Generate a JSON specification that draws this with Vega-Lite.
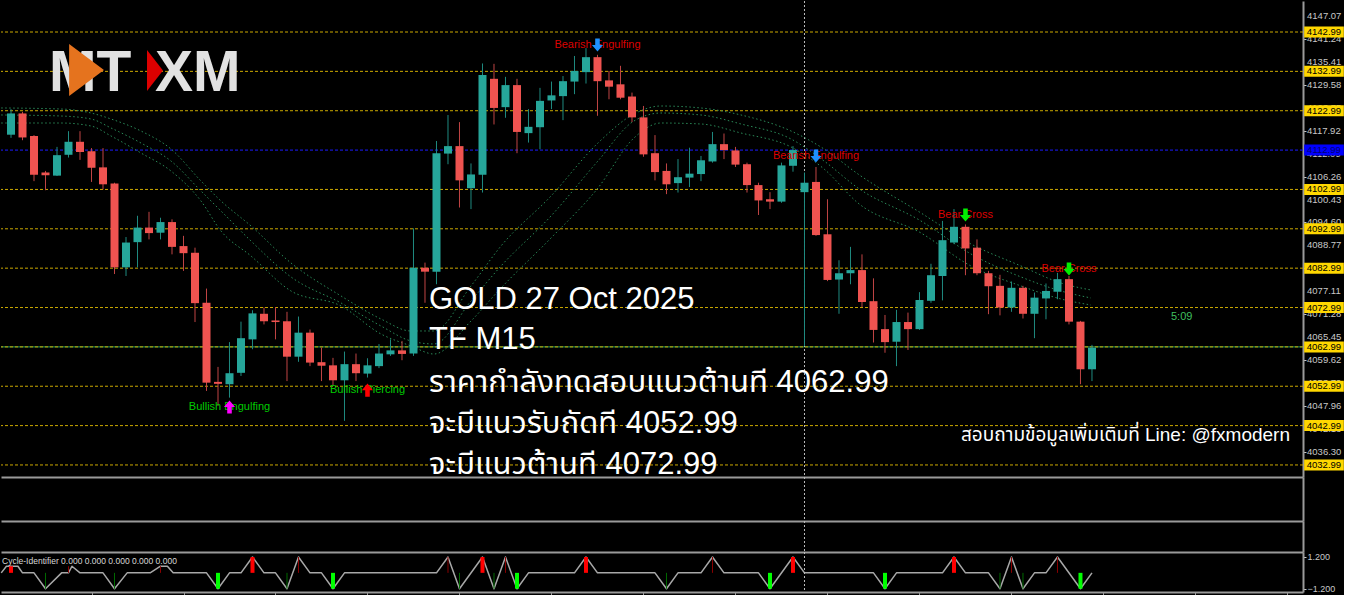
{
  "$schema": "https://vega.github.io/schema/vega-lite/v6.json",
  "background": "#000000",
  "padding": 0,
  "spacing": 0,
  "bounds": "flush",
  "config": {"view": {"stroke": null}, "font": "Liberation Sans", "scale": {"continuousPadding": 0}, "axis": {"labelOverlap": false}},
  "datasets": {
    "candles": [
      {"i":0,"o":4116.9,"h":4123.4,"l":4116.1,"c":4122.3},
      {"i":1,"o":4122.3,"h":4122.7,"l":4115.5,"c":4116.2},
      {"i":2,"o":4116.6,"h":4116.8,"l":4105.1,"c":4106.7},
      {"i":3,"o":4107.3,"h":4107.7,"l":4102.8,"c":4106.6},
      {"i":4,"o":4106.5,"h":4113.8,"l":4106.4,"c":4111.7},
      {"i":5,"o":4111.8,"h":4117.8,"l":4111.1,"c":4115.1},
      {"i":6,"o":4115.1,"h":4117.8,"l":4110.5,"c":4112.5},
      {"i":7,"o":4112.7,"h":4113.5,"l":4104.9,"c":4108.5},
      {"i":8,"o":4108.6,"h":4113.5,"l":4103.0,"c":4104.3},
      {"i":9,"o":4104.5,"h":4104.7,"l":4081.5,"c":4083.2},
      {"i":10,"o":4083.2,"h":4090.9,"l":4081.0,"c":4089.5},
      {"i":11,"o":4089.6,"h":4096.3,"l":4083.2,"c":4093.3},
      {"i":12,"o":4093.3,"h":4097.3,"l":4090.3,"c":4091.9},
      {"i":13,"o":4092.0,"h":4095.8,"l":4090.3,"c":4094.7},
      {"i":14,"o":4094.7,"h":4095.4,"l":4086.5,"c":4088.4},
      {"i":15,"o":4088.6,"h":4091.2,"l":4082.3,"c":4086.8},
      {"i":16,"o":4086.9,"h":4088.2,"l":4069.3,"c":4074.1},
      {"i":17,"o":4074.2,"h":4077.8,"l":4051.8,"c":4053.9},
      {"i":18,"o":4054.1,"h":4057.9,"l":4048.0,"c":4053.6},
      {"i":19,"o":4053.5,"h":4064.2,"l":4050.1,"c":4056.3},
      {"i":20,"o":4056.4,"h":4069.4,"l":4055.6,"c":4065.2},
      {"i":21,"o":4064.9,"h":4072.3,"l":4062.4,"c":4071.5},
      {"i":22,"o":4071.4,"h":4073.0,"l":4068.7,"c":4069.5},
      {"i":23,"o":4069.7,"h":4073.1,"l":4064.9,"c":4069.3},
      {"i":24,"o":4069.5,"h":4071.9,"l":4054.3,"c":4060.5},
      {"i":25,"o":4060.5,"h":4070.7,"l":4059.2,"c":4066.6},
      {"i":26,"o":4066.6,"h":4067.4,"l":4058.1,"c":4059.0},
      {"i":27,"o":4059.1,"h":4062.8,"l":4054.3,"c":4058.2},
      {"i":28,"o":4058.3,"h":4060.2,"l":4053.1,"c":4054.5},
      {"i":29,"o":4054.5,"h":4061.8,"l":4044.2,"c":4058.6},
      {"i":30,"o":4058.6,"h":4061.3,"l":4054.3,"c":4056.3},
      {"i":31,"o":4056.2,"h":4060.1,"l":4055.2,"c":4058.3},
      {"i":32,"o":4058.1,"h":4063.7,"l":4057.6,"c":4061.3},
      {"i":33,"o":4061.1,"h":4064.9,"l":4060.7,"c":4062.1},
      {"i":34,"o":4062.1,"h":4064.5,"l":4059.6,"c":4061.2},
      {"i":35,"o":4061.3,"h":4093.1,"l":4060.7,"c":4083.1},
      {"i":36,"o":4083.1,"h":4084.4,"l":4074.2,"c":4082.1},
      {"i":37,"o":4082.1,"h":4115.3,"l":4078.9,"c":4112.2},
      {"i":38,"o":4112.1,"h":4121.9,"l":4109.4,"c":4114.0},
      {"i":39,"o":4114.0,"h":4120.1,"l":4098.4,"c":4105.3},
      {"i":40,"o":4103.3,"h":4109.6,"l":4098.0,"c":4106.8},
      {"i":41,"o":4106.7,"h":4135.0,"l":4102.2,"c":4132.1},
      {"i":42,"o":4131.1,"h":4134.9,"l":4119.5,"c":4123.7},
      {"i":43,"o":4123.9,"h":4131.6,"l":4121.2,"c":4129.5},
      {"i":44,"o":4129.5,"h":4131.1,"l":4112.2,"c":4117.6},
      {"i":45,"o":4117.3,"h":4123.4,"l":4114.9,"c":4118.9},
      {"i":46,"o":4118.8,"h":4128.8,"l":4113.2,"c":4125.5},
      {"i":47,"o":4125.6,"h":4130.4,"l":4123.4,"c":4126.9},
      {"i":48,"o":4126.7,"h":4131.8,"l":4120.6,"c":4130.5},
      {"i":49,"o":4130.4,"h":4136.9,"l":4127.2,"c":4133.1},
      {"i":50,"o":4132.8,"h":4138.9,"l":4129.9,"c":4136.6},
      {"i":51,"o":4136.6,"h":4137.2,"l":4121.7,"c":4130.5},
      {"i":52,"o":4130.7,"h":4133.1,"l":4125.9,"c":4129.1},
      {"i":53,"o":4129.7,"h":4134.4,"l":4125.9,"c":4126.3},
      {"i":54,"o":4126.6,"h":4127.6,"l":4120.1,"c":4121.3},
      {"i":55,"o":4121.3,"h":4124.2,"l":4111.3,"c":4111.9},
      {"i":56,"o":4112.2,"h":4116.8,"l":4105.3,"c":4107.4},
      {"i":57,"o":4107.7,"h":4109.6,"l":4101.8,"c":4104.3},
      {"i":58,"o":4104.6,"h":4110.7,"l":4102.2,"c":4106.1},
      {"i":59,"o":4106.0,"h":4113.6,"l":4103.6,"c":4107.0},
      {"i":60,"o":4106.9,"h":4111.5,"l":4105.1,"c":4110.4},
      {"i":61,"o":4110.1,"h":4117.6,"l":4109.8,"c":4114.5},
      {"i":62,"o":4114.5,"h":4117.2,"l":4110.7,"c":4113.0},
      {"i":63,"o":4112.9,"h":4113.8,"l":4108.7,"c":4109.3},
      {"i":64,"o":4109.4,"h":4109.8,"l":4102.2,"c":4104.1},
      {"i":65,"o":4104.1,"h":4104.7,"l":4096.5,"c":4100.2},
      {"i":66,"o":4100.5,"h":4102.3,"l":4098.0,"c":4099.9},
      {"i":67,"o":4099.9,"h":4109.8,"l":4099.6,"c":4109.1},
      {"i":68,"o":4109.0,"h":4114.0,"l":4107.5,"c":4113.0},
      {"i":69,"o":4102.3,"h":4107.3,"l":4063.2,"c":4104.7},
      {"i":70,"o":4104.9,"h":4108.7,"l":4091.2,"c":4091.4},
      {"i":71,"o":4091.6,"h":4100.5,"l":4079.7,"c":4080.0},
      {"i":72,"o":4080.1,"h":4085.0,"l":4071.4,"c":4081.7},
      {"i":73,"o":4081.7,"h":4088.4,"l":4078.9,"c":4082.5},
      {"i":74,"o":4082.5,"h":4086.5,"l":4073.1,"c":4074.4},
      {"i":75,"o":4074.6,"h":4080.4,"l":4064.1,"c":4067.3},
      {"i":76,"o":4067.5,"h":4071.1,"l":4061.5,"c":4064.2},
      {"i":77,"o":4064.3,"h":4072.4,"l":4058.1,"c":4069.3},
      {"i":78,"o":4069.3,"h":4071.7,"l":4062.2,"c":4067.5},
      {"i":79,"o":4067.5,"h":4076.9,"l":4067.3,"c":4074.9},
      {"i":80,"o":4074.7,"h":4084.1,"l":4074.2,"c":4081.2},
      {"i":81,"o":4081.0,"h":4095.0,"l":4074.8,"c":4090.1},
      {"i":82,"o":4089.5,"h":4098.0,"l":4089.1,"c":4093.5},
      {"i":83,"o":4093.5,"h":4094.1,"l":4081.2,"c":4088.0},
      {"i":84,"o":4088.2,"h":4090.3,"l":4081.2,"c":4081.7},
      {"i":85,"o":4081.7,"h":4082.3,"l":4071.3,"c":4078.4},
      {"i":86,"o":4078.5,"h":4081.3,"l":4071.0,"c":4073.0},
      {"i":87,"o":4073.0,"h":4079.6,"l":4071.9,"c":4078.0},
      {"i":88,"o":4078.0,"h":4078.5,"l":4070.2,"c":4071.4},
      {"i":89,"o":4071.4,"h":4076.8,"l":4065.2,"c":4075.5},
      {"i":90,"o":4075.3,"h":4079.1,"l":4070.0,"c":4077.2},
      {"i":91,"o":4077.0,"h":4081.8,"l":4075.1,"c":4080.2},
      {"i":92,"o":4080.2,"h":4081.0,"l":4068.7,"c":4069.4},
      {"i":93,"o":4069.4,"h":4069.6,"l":4053.5,"c":4057.3},
      {"i":94,"o":4057.3,"h":4063.5,"l":4054.3,"c":4062.8}
    ],
    "bands": [
      {"i":-0.85,"top":4123.69,"mid":4121.91,"bot":4119.87},
      {"i":4.35,"top":4123.43,"mid":4121.65,"bot":4119.87},
      {"i":6.96,"top":4122.41,"mid":4120.89,"bot":4119.11},
      {"i":8.7,"top":4120.89,"mid":4118.6,"bot":4116.57},
      {"i":11.3,"top":4117.84,"mid":4114.79,"bot":4112.25},
      {"i":13.91,"top":4113.27,"mid":4110.22,"bot":4107.68},
      {"i":16.52,"top":4105.14,"mid":4102.6,"bot":4100.06},
      {"i":18.26,"top":4100.06,"mid":4097.52,"bot":4092.44},
      {"i":20.87,"top":4093.71,"mid":4089.89,"bot":4086.08},
      {"i":24.35,"top":4084.3,"mid":4080.75,"bot":4077.19},
      {"i":28.7,"top":4075.92,"mid":4074.14,"bot":4073.38},
      {"i":32.17,"top":4070.08,"mid":4068.3,"bot":4066.27},
      {"i":34.78,"top":4067.03,"mid":4064.49,"bot":4063.22},
      {"i":36.78,"top":4067.03,"mid":4063.73,"bot":4061.18},
      {"i":40,"top":4078.46,"mid":4074.65,"bot":4069.57},
      {"i":42.61,"top":4088.62,"mid":4083.54,"bot":4077.95},
      {"i":46.96,"top":4101.33,"mid":4096.25,"bot":4090.66},
      {"i":51.04,"top":4114.79,"mid":4110.22,"bot":4103.36},
      {"i":54.17,"top":4122.16,"mid":4120.38,"bot":4116.06},
      {"i":56.52,"top":4124.19,"mid":4122.41,"bot":4119.87},
      {"i":60,"top":4123.69,"mid":4121.91,"bot":4119.62},
      {"i":63.48,"top":4121.91,"mid":4119.62,"bot":4117.33},
      {"i":67.83,"top":4117.84,"mid":4115.81,"bot":4113.78},
      {"i":70.7,"top":4113.27,"mid":4110.22,"bot":4108.19},
      {"i":73.65,"top":4106.92,"mid":4103.36,"bot":4099.55},
      {"i":79.13,"top":4097.01,"mid":4094.98,"bot":4091.93},
      {"i":83.48,"top":4089.13,"mid":4086.59,"bot":4083.54},
      {"i":87.83,"top":4083.54,"mid":4080.75,"bot":4078.46},
      {"i":91.3,"top":4079.22,"mid":4077.19,"bot":4075.16},
      {"i":93.91,"top":4077.45,"mid":4075.41,"bot":4073.63}
    ],
    "levels": [
      {"v":4142.99},{"v":4132.99},{"v":4122.99},{"v":4112.99},{"v":4102.99},{"v":4092.99},
      {"v":4082.99},{"v":4072.99},{"v":4062.99},{"v":4052.99},{"v":4042.99},{"v":4032.99}
    ],
    "ticks": [
      {"v":4036.30},{"v":4042.13},{"v":4047.96},{"v":4053.79},{"v":4059.62},{"v":4065.45},{"v":4071.28},
      {"v":4077.11},{"v":4082.94},{"v":4088.77},{"v":4094.60},{"v":4100.43},{"v":4106.26},{"v":4112.09},
      {"v":4117.92},{"v":4123.75},{"v":4129.58},{"v":4135.41},{"v":4141.24},{"v":4147.07}
    ],
    "signals": [
      {"i":51,"y":4139.7,"t":"Bearish Engulfing","d":"bear"},
      {"i":70,"y":4111.5,"t":"Bearish Engulfing","d":"bear"},
      {"i":83,"y":4096.5,"t":"Bear Cross","d":"bear"},
      {"i":92,"y":4082.8,"t":"Bear Cross","d":"bear"},
      {"i":19,"y":4047.7,"t":"Bullish Engulfing","d":"bull"},
      {"i":31,"y":4052.0,"t":"Bullish Piercing","d":"bull"}
    ],
    "notes": [
      {"i":36.35,"y":4072.62,"t":"GOLD 27 Oct 2025"},
      {"i":36.35,"y":4062.33,"t":"TF M15"},
      {"i":36.35,"y":4051.4,"t":"ราคากำลังทดสอบแนวต้านที 4062.99"},
      {"i":36.35,"y":4041.11,"t":"จะมีแนวรับถัดที 4052.99"},
      {"i":36.35,"y":4030.57,"t":"จะมีแนวต้านที 4072.99"}
    ],
    "zig": [
      {"i":-0.85,"v":0},{"i":-0.4,"v":0.5},{"i":0.6,"v":0.5},{"i":1,"v":0},{"i":2,"v":0},{"i":3,"v":-1.2},
      {"i":4.4,"v":0},{"i":5,"v":0},{"i":5.3,"v":0.5},{"i":6,"v":0},{"i":8,"v":0},{"i":9,"v":-1.2},
      {"i":10.1,"v":0},{"i":12.1,"v":0},{"i":13,"v":0.5},{"i":13.6,"v":0.5},{"i":14.1,"v":0},{"i":17,"v":0},
      {"i":18,"v":-1.2},{"i":19,"v":0},{"i":20,"v":0},{"i":21,"v":1.2},{"i":22,"v":0},{"i":23,"v":0},
      {"i":24,"v":-1.2},{"i":25,"v":1.2},{"i":26,"v":0},{"i":27,"v":0},{"i":28,"v":-1.2},{"i":29,"v":0},
      {"i":37,"v":0},{"i":38,"v":1.2},{"i":39,"v":-1.2},{"i":41,"v":1.2},{"i":42,"v":-1.2},{"i":43,"v":1.2},
      {"i":44,"v":-1.2},{"i":45,"v":0},{"i":49,"v":0},{"i":50,"v":1.2},{"i":51,"v":0},{"i":56,"v":0},
      {"i":57,"v":-1.2},{"i":58,"v":0},{"i":60,"v":0},{"i":61,"v":1.2},{"i":62,"v":0},{"i":65,"v":0},
      {"i":66,"v":-1.2},{"i":68,"v":1.2},{"i":69,"v":0},{"i":75,"v":0},{"i":76,"v":-1.2},{"i":77,"v":0},
      {"i":81,"v":0},{"i":82,"v":1.2},{"i":83,"v":0},{"i":85,"v":0},{"i":86,"v":-1.2},{"i":87,"v":1.2},
      {"i":88,"v":-1.2},{"i":89,"v":0},{"i":90,"v":0},{"i":91,"v":1.2},{"i":93,"v":-1.2},{"i":94,"v":0}
    ],
    "cyc": [
      {"i":0,"v":0.5,"k":"sell"},{"i":21,"v":1.2,"k":"sell"},{"i":41,"v":1.2,"k":"sell"},{"i":50,"v":1.2,"k":"sell"},
      {"i":68,"v":1.2,"k":"sell"},{"i":82,"v":1.2,"k":"sell"},
      {"i":18,"v":-1.2,"k":"buy"},{"i":28,"v":-1.2,"k":"buy"},{"i":44,"v":-1.2,"k":"buy"},{"i":66,"v":-1.2,"k":"buy"},
      {"i":76,"v":-1.2,"k":"buy"},{"i":93,"v":-1.2,"k":"buy"},
      {"i":5,"v":0.5,"k":"sellWeak"},{"i":13,"v":0.5,"k":"sellWeak"},{"i":25,"v":1.2,"k":"sellWeak"},{"i":38,"v":1.2,"k":"sellWeak"},
      {"i":43,"v":1.2,"k":"sellWeak"},{"i":61,"v":1.2,"k":"sellWeak"},{"i":87,"v":1.2,"k":"sellWeak"},{"i":91,"v":1.2,"k":"sellWeak"},
      {"i":3,"v":-1.2,"k":"buyWeak"},{"i":9,"v":-1.2,"k":"buyWeak"},{"i":24,"v":-1.2,"k":"buyWeak"},{"i":39,"v":-1.2,"k":"buyWeak"},
      {"i":42,"v":-1.2,"k":"buyWeak"},{"i":57,"v":-1.2,"k":"buyWeak"},{"i":86,"v":-1.2,"k":"buyWeak"},{"i":88,"v":-1.2,"k":"buyWeak"}
    ]
  },
  "vconcat": [
    {
      "width": 1302,
      "height": 476,
      "layer": [
        {
          "data": {"name": "ticks"},
          "mark": {"type": "rule", "opacity": 0},
          "encoding": {
            "x": {"datum": 0, "type": "quantitative", "scale": {"domain": [-0.87, 112.35], "nice": false, "zero": false, "padding": 0},
                  "axis": {"orient": "bottom", "ticks": false, "labels": false, "domain": true, "domainColor": "#9a9a9a", "domainWidth": 2, "title": null, "grid": false}},
            "y": {"field": "v", "type": "quantitative", "scale": {"domain": [4029.93, 4150.87], "nice": false, "zero": false, "padding": 0},
                  "axis": {"orient": "right", "values": [4036.30, 4042.13, 4047.96, 4053.79, 4059.62, 4065.45, 4071.28, 4077.11, 4082.94, 4088.77, 4094.60, 4100.43, 4106.26, 4112.09, 4117.92, 4123.75, 4129.58, 4135.41, 4141.24, 4147.07],
                           "labels": false, "tickColor": "#c8c8c8", "tickSize": 3, "domain": true, "domainColor": "#9a9a9a", "domainWidth": 2, "title": null, "grid": false}}
          }
        },
        {
          "data": {"name": "ticks"},
          "mark": {"type": "text", "fontSize": 9.5, "font": "Liberation Sans", "align": "left", "baseline": "middle", "color": "#c8c8c8"},
          "encoding": {
            "x": {"datum": 112.7, "type": "quantitative", "scale": {"domain": [-0.87, 112.35], "nice": false, "zero": false}},
            "y": {"field": "v", "type": "quantitative", "scale": {"domain": [4029.93, 4150.87], "nice": false, "zero": false}},
            "text": {"field": "v", "type": "quantitative", "format": ".2f"}
          }
        },
        {
          "data": {"values": [{}]},
          "mark": {"type": "rule", "color": "#2fa35e", "strokeWidth": 1},
          "encoding": {"y": {"datum": 4062.99, "type": "quantitative", "scale": {"domain": [4029.93, 4150.87], "nice": false, "zero": false}}}
        },
        {
          "data": {"name": "levels"},
          "transform": [{"filter": "datum.v != 4112.99"}],
          "mark": {"type": "rule", "color": "#caa800", "strokeWidth": 1, "strokeDash": [3, 2]},
          "encoding": {"y": {"field": "v", "type": "quantitative", "scale": {"domain": [4029.93, 4150.87], "nice": false, "zero": false}}}
        },
        {
          "data": {"values": [{}]},
          "mark": {"type": "rule", "color": "#1a1aff", "strokeWidth": 1, "strokeDash": [3, 2]},
          "encoding": {"y": {"datum": 4112.99, "type": "quantitative", "scale": {"domain": [4029.93, 4150.87], "nice": false, "zero": false}}}
        },
        {
          "data": {"values": [{}]},
          "mark": {"type": "rule", "color": "#bdbdbd", "strokeWidth": 1, "strokeDash": [2, 2]},
          "encoding": {"x": {"datum": 69, "type": "quantitative", "scale": {"domain": [-0.87, 112.35], "nice": false, "zero": false}}}
        },
        {
          "data": {"name": "bands"},
          "mark": {"type": "line", "color": "#2a8a58", "strokeWidth": 1, "strokeDash": [1.5, 2.5], "interpolate": "monotone", "strokeJoin": "round"},
          "encoding": {
            "x": {"field": "i", "type": "quantitative", "scale": {"domain": [-0.87, 112.35], "nice": false, "zero": false}},
            "y": {"field": "top", "type": "quantitative", "scale": {"domain": [4029.93, 4150.87], "nice": false, "zero": false}}
          }
        },
        {
          "data": {"name": "bands"},
          "mark": {"type": "line", "color": "#2a8a58", "strokeWidth": 1, "strokeDash": [1.5, 2.5], "interpolate": "monotone", "strokeJoin": "round"},
          "encoding": {
            "x": {"field": "i", "type": "quantitative", "scale": {"domain": [-0.87, 112.35], "nice": false, "zero": false}},
            "y": {"field": "mid", "type": "quantitative", "scale": {"domain": [4029.93, 4150.87], "nice": false, "zero": false}}
          }
        },
        {
          "data": {"name": "bands"},
          "mark": {"type": "line", "color": "#2a8a58", "strokeWidth": 1, "strokeDash": [1.5, 2.5], "interpolate": "monotone", "strokeJoin": "round"},
          "encoding": {
            "x": {"field": "i", "type": "quantitative", "scale": {"domain": [-0.87, 112.35], "nice": false, "zero": false}},
            "y": {"field": "bot", "type": "quantitative", "scale": {"domain": [4029.93, 4150.87], "nice": false, "zero": false}}
          }
        },
        {
          "data": {"name": "candles"},
          "mark": {"type": "rule", "strokeWidth": 1},
          "encoding": {
            "x": {"field": "i", "type": "quantitative", "scale": {"domain": [-0.87, 112.35], "nice": false, "zero": false}},
            "y": {"field": "l", "type": "quantitative", "scale": {"domain": [4029.93, 4150.87], "nice": false, "zero": false}},
            "y2": {"field": "h"},
            "color": {"condition": {"test": "datum.c >= datum.o", "value": "#1f8a80"}, "value": "#c04444"}
          }
        },
        {
          "data": {"name": "candles"},
          "mark": {"type": "bar", "size": 8},
          "encoding": {
            "x": {"field": "i", "type": "quantitative", "scale": {"domain": [-0.87, 112.35], "nice": false, "zero": false}},
            "y": {"field": "o", "type": "quantitative", "scale": {"domain": [4029.93, 4150.87], "nice": false, "zero": false}},
            "y2": {"field": "c"},
            "color": {"condition": {"test": "datum.c >= datum.o", "value": "#26a69a"}, "value": "#ef5350"}
          }
        },
        {
          "data": {"name": "signals"},
          "mark": {"type": "text", "fontSize": 11, "font": "Liberation Sans", "align": "center", "baseline": "middle"},
          "encoding": {
            "x": {"field": "i", "type": "quantitative", "scale": {"domain": [-0.87, 112.35], "nice": false, "zero": false}},
            "y": {"field": "y", "type": "quantitative", "scale": {"domain": [4029.93, 4150.87], "nice": false, "zero": false}},
            "text": {"field": "t"},
            "color": {"field": "d", "type": "nominal", "scale": {"domain": ["bear", "bull"], "range": ["#dd0000", "#00cc00"]}, "legend": null}
          }
        },
        {
          "data": {"name": "signals"},
          "mark": {"type": "point", "filled": true, "size": 170, "opacity": 1},
          "encoding": {
            "x": {"field": "i", "type": "quantitative", "scale": {"domain": [-0.87, 112.35], "nice": false, "zero": false}},
            "y": {"field": "y", "type": "quantitative", "scale": {"domain": [4029.93, 4150.87], "nice": false, "zero": false}},
            "shape": {"field": "d", "type": "nominal", "scale": {"domain": ["bear", "bull"], "range": ["M-0.35,-1L0.35,-1L0.35,0L0.85,0L0,1L-0.85,0L-0.35,0Z", "M-0.35,1L0.35,1L0.35,0L0.85,0L0,-1L-0.85,0L-0.35,0Z"]}, "legend": null},
            "fill": {"field": "t", "type": "nominal", "scale": {"domain": ["Bearish Engulfing", "Bear Cross", "Bullish Engulfing", "Bullish Piercing"], "range": ["#1e90ff", "#00ee00", "#ff00ff", "#ff0000"]}, "legend": null}
          }
        },
        {
          "data": {"name": "notes"},
          "mark": {"type": "text", "fontSize": 31, "font": "Liberation Sans, Noto Sans Thai, sans-serif", "align": "left", "baseline": "alphabetic", "color": "#ffffff"},
          "encoding": {
            "x": {"field": "i", "type": "quantitative", "scale": {"domain": [-0.87, 112.35], "nice": false, "zero": false}},
            "y": {"field": "y", "type": "quantitative", "scale": {"domain": [4029.93, 4150.87], "nice": false, "zero": false}},
            "text": {"field": "t"}
          }
        },
        {
          "data": {"values": [{"i": 82.61, "y": 4039.08, "t": "สอบถามข้อมูลเพิ่มเติมที่ Line: @fxmodern"}]},
          "mark": {"type": "text", "fontSize": 19, "font": "Liberation Sans, Noto Sans Thai, sans-serif", "align": "left", "baseline": "alphabetic", "color": "#ffffff"},
          "encoding": {
            "x": {"field": "i", "type": "quantitative", "scale": {"domain": [-0.87, 112.35], "nice": false, "zero": false}},
            "y": {"field": "y", "type": "quantitative", "scale": {"domain": [4029.93, 4150.87], "nice": false, "zero": false}},
            "text": {"field": "t"}
          }
        },
        {
          "data": {"values": [{"i": 100.87, "y": 4070.59, "t": "5:09"}]},
          "mark": {"type": "text", "fontSize": 11, "font": "Liberation Sans", "align": "left", "baseline": "middle", "color": "#3fbf5f"},
          "encoding": {
            "x": {"field": "i", "type": "quantitative", "scale": {"domain": [-0.87, 112.35], "nice": false, "zero": false}},
            "y": {"field": "y", "type": "quantitative", "scale": {"domain": [4029.93, 4150.87], "nice": false, "zero": false}},
            "text": {"field": "t"}
          }
        },
        {
          "data": {"values": [{"i": 3.3, "y": 4128.0, "t": "MT"}, {"i": 12.52, "y": 4128.0, "t": "XM"}]},
          "mark": {"type": "text", "fontSize": 57, "font": "Liberation Sans", "fontWeight": "bold", "align": "left", "baseline": "alphabetic", "color": "#e2e2e2"},
          "encoding": {
            "x": {"field": "i", "type": "quantitative", "scale": {"domain": [-0.87, 112.35], "nice": false, "zero": false}},
            "y": {"field": "y", "type": "quantitative", "scale": {"domain": [4029.93, 4150.87], "nice": false, "zero": false}},
            "text": {"field": "t"}
          }
        },
        {
          "data": {"values": [{"i": 6.57, "y": 4133.34}]},
          "mark": {"type": "point", "filled": true, "opacity": 1, "color": "#e5731e", "size": 2704, "shape": "M-0.67,-1L0.67,0L-0.67,1Z"},
          "encoding": {
            "x": {"field": "i", "type": "quantitative", "scale": {"domain": [-0.87, 112.35], "nice": false, "zero": false}},
            "y": {"field": "y", "type": "quantitative", "scale": {"domain": [4029.93, 4150.87], "nice": false, "zero": false}}
          }
        },
        {
          "data": {"values": [{"i": 12.52, "y": 4133.21}]},
          "mark": {"type": "point", "filled": true, "opacity": 1, "color": "#dd0000", "size": 1681, "shape": "M-0.39,-1L0.39,0L-0.39,1Z"},
          "encoding": {
            "x": {"field": "i", "type": "quantitative", "scale": {"domain": [-0.87, 112.35], "nice": false, "zero": false}},
            "y": {"field": "y", "type": "quantitative", "scale": {"domain": [4029.93, 4150.87], "nice": false, "zero": false}}
          }
        },
        {
          "data": {"name": "levels"},
          "mark": {"type": "bar", "size": 11, "orient": "horizontal"},
          "encoding": {
            "x": {"datum": 112.45, "type": "quantitative", "scale": {"domain": [-0.87, 112.35], "nice": false, "zero": false}},
            "x2": {"datum": 115.9},
            "y": {"field": "v", "type": "quantitative", "scale": {"domain": [4029.93, 4150.87], "nice": false, "zero": false}},
            "color": {"condition": {"test": "datum.v == 4112.99", "value": "#0000ff"}, "value": "#ffd700"}
          }
        },
        {
          "data": {"name": "levels"},
          "mark": {"type": "text", "fontSize": 9.5, "font": "Liberation Sans", "align": "center", "baseline": "middle"},
          "encoding": {
            "x": {"datum": 114.17, "type": "quantitative", "scale": {"domain": [-0.87, 112.35], "nice": false, "zero": false}},
            "y": {"field": "v", "type": "quantitative", "scale": {"domain": [4029.93, 4150.87], "nice": false, "zero": false}},
            "text": {"field": "v", "type": "quantitative", "format": ".2f"},
            "color": {"condition": {"test": "datum.v == 4112.99", "value": "#000070"}, "value": "#000000"}
          }
        }
      ]
    },
    {
      "width": 1302,
      "height": 44,
      "layer": [
        {
          "data": {"values": []},
          "mark": "point",
          "encoding": {
            "x": {"field": "i", "type": "quantitative", "scale": {"domain": [-0.87, 112.35], "nice": false, "zero": false, "padding": 0},
                  "axis": {"orient": "bottom", "ticks": false, "labels": false, "domain": true, "domainColor": "#9a9a9a", "domainWidth": 2, "title": null, "grid": false}},
            "y": {"field": "v", "type": "quantitative", "scale": {"domain": [0, 1], "nice": false, "padding": 0},
                  "axis": {"orient": "right", "ticks": false, "labels": false, "domain": true, "domainColor": "#9a9a9a", "domainWidth": 2, "title": null, "grid": false}}
          }
        },
        {
          "data": {"values": [{}]},
          "mark": {"type": "rule", "color": "#bdbdbd", "strokeWidth": 1, "strokeDash": [2, 2]},
          "encoding": {"x": {"datum": 69, "type": "quantitative", "scale": {"domain": [-0.87, 112.35], "nice": false, "zero": false}}}
        }
      ]
    },
    {
      "width": 1302,
      "height": 31,
      "layer": [
        {
          "data": {"values": []},
          "mark": "point",
          "encoding": {
            "x": {"field": "i", "type": "quantitative", "scale": {"domain": [-0.87, 112.35], "nice": false, "zero": false, "padding": 0},
                  "axis": {"orient": "bottom", "ticks": false, "labels": false, "domain": true, "domainColor": "#9a9a9a", "domainWidth": 2, "title": null, "grid": false}},
            "y": {"field": "v", "type": "quantitative", "scale": {"domain": [0, 1], "nice": false, "padding": 0},
                  "axis": {"orient": "right", "ticks": false, "labels": false, "domain": true, "domainColor": "#9a9a9a", "domainWidth": 2, "title": null, "grid": false}}
          }
        },
        {
          "data": {"values": [{}]},
          "mark": {"type": "rule", "color": "#bdbdbd", "strokeWidth": 1, "strokeDash": [2, 2]},
          "encoding": {"x": {"datum": 69, "type": "quantitative", "scale": {"domain": [-0.87, 112.35], "nice": false, "zero": false}}}
        }
      ]
    },
    {
      "width": 1302,
      "height": 40,
      "layer": [
        {
          "data": {"name": "zig"},
          "mark": {"type": "line", "color": "#a8a8a8", "strokeWidth": 1.5, "strokeJoin": "round"},
          "encoding": {
            "x": {"field": "i", "type": "quantitative", "scale": {"domain": [-0.87, 112.35], "nice": false, "zero": false, "padding": 0},
                  "axis": {"orient": "bottom", "values": [7, 15, 23, 31, 39, 47, 55, 63, 71, 79, 87, 95, 103, 111], "labels": false, "ticks": true, "tickSize": 4, "tickColor": "#9a9a9a", "tickWidth": 1, "domain": true, "domainColor": "#9a9a9a", "domainWidth": 2, "title": null, "grid": false}},
            "y": {"field": "v", "type": "quantitative", "scale": {"domain": [-1.45, 1.578], "nice": false, "zero": false, "padding": 0},
                  "axis": {"orient": "right", "values": [1.2, -1.2], "format": ".3f", "labelColor": "#c8c8c8", "labelFont": "Liberation Sans", "labelFontSize": 9, "labelPadding": 1, "tickColor": "#c8c8c8", "tickSize": 3, "domain": true, "domainColor": "#9a9a9a", "domainWidth": 2, "title": null, "grid": false, "labelOverlap": false}}
          }
        },
        {
          "data": {"values": [{}]},
          "mark": {"type": "rule", "color": "#bdbdbd", "strokeWidth": 1, "strokeDash": [2, 2]},
          "encoding": {"x": {"datum": 69, "type": "quantitative", "scale": {"domain": [-0.87, 112.35], "nice": false, "zero": false}}}
        },
        {
          "data": {"name": "cyc"},
          "transform": [{"filter": "datum.k == 'sellWeak'"}],
          "mark": {"type": "rule", "color": "#8b0000", "strokeWidth": 1},
          "encoding": {
            "x": {"field": "i", "type": "quantitative", "scale": {"domain": [-0.87, 112.35], "nice": false, "zero": false}},
            "y": {"field": "v", "type": "quantitative", "scale": {"domain": [-1.45, 1.578], "nice": false, "zero": false}},
            "y2": {"datum": 0}
          }
        },
        {
          "data": {"name": "cyc"},
          "transform": [{"filter": "datum.k == 'buyWeak'"}],
          "mark": {"type": "rule", "color": "#006a00", "strokeWidth": 1},
          "encoding": {
            "x": {"field": "i", "type": "quantitative", "scale": {"domain": [-0.87, 112.35], "nice": false, "zero": false}},
            "y": {"field": "v", "type": "quantitative", "scale": {"domain": [-1.45, 1.578], "nice": false, "zero": false}},
            "y2": {"datum": 0}
          }
        },
        {
          "data": {"name": "cyc"},
          "transform": [{"filter": "datum.k == 'sell' || datum.k == 'buy'"}],
          "mark": {"type": "bar", "size": 4},
          "encoding": {
            "x": {"field": "i", "type": "quantitative", "scale": {"domain": [-0.87, 112.35], "nice": false, "zero": false}},
            "y": {"field": "v", "type": "quantitative", "scale": {"domain": [-1.45, 1.578], "nice": false, "zero": false}},
            "y2": {"datum": 0},
            "color": {"condition": {"test": "datum.k == 'sell'", "value": "#ff0000"}, "value": "#00ff00"}
          }
        },
        {
          "data": {"values": [{"i": -0.78, "y": 0.9, "t": "Cycle-Identifier 0.000 0.000 0.000 0.000 0.000"}]},
          "mark": {"type": "text", "fontSize": 8.5, "font": "Liberation Sans", "align": "left", "baseline": "middle", "color": "#d8d8d8"},
          "encoding": {
            "x": {"field": "i", "type": "quantitative", "scale": {"domain": [-0.87, 112.35], "nice": false, "zero": false}},
            "y": {"field": "y", "type": "quantitative", "scale": {"domain": [-1.45, 1.578], "nice": false, "zero": false}},
            "text": {"field": "t"}
          }
        }
      ]
    }
  ]
}
